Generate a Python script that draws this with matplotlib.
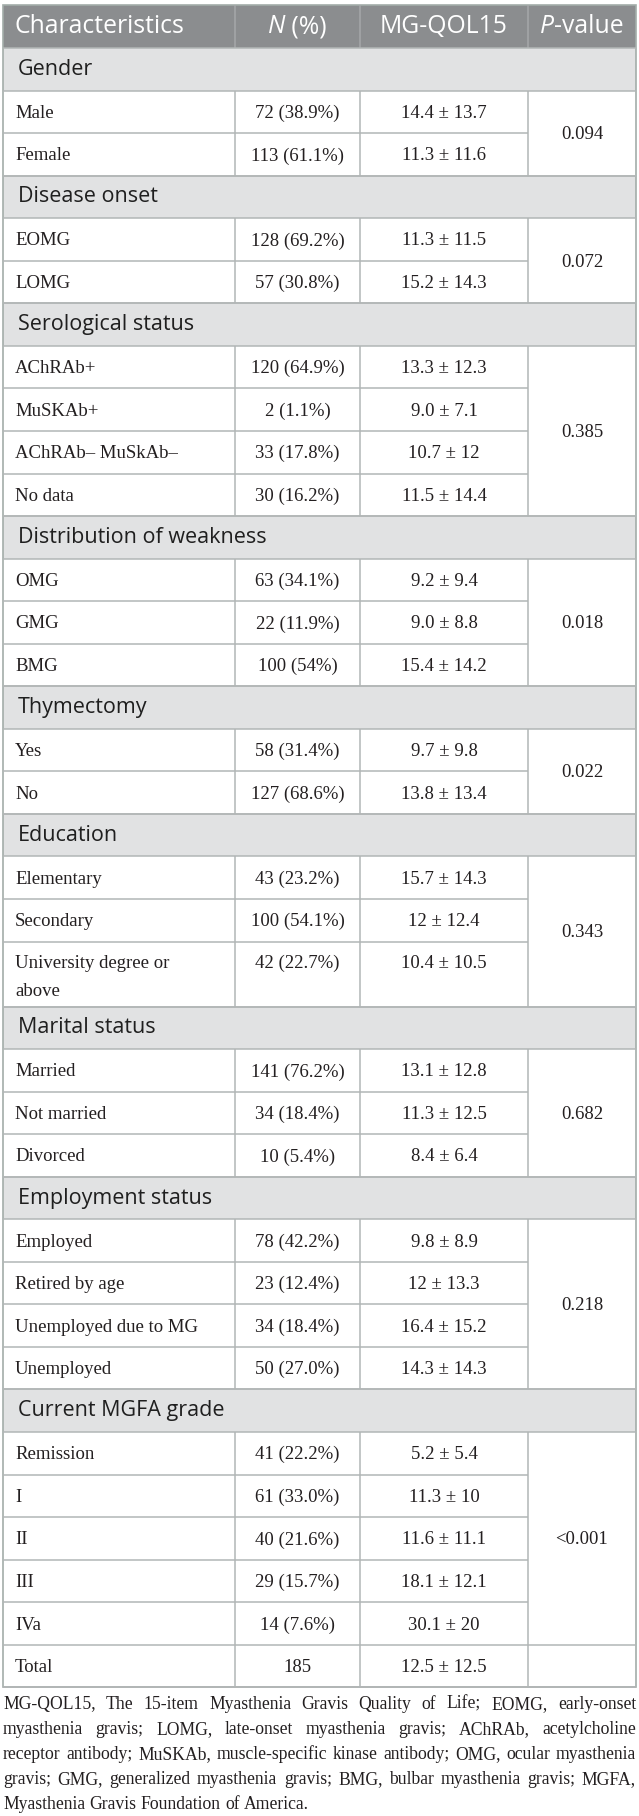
import matplotlib.pyplot as plt
from matplotlib.patches import Rectangle

header = ["Characteristics", "N (%)", "MG-QOL15", "P-value"]

sections = ["Gender", "Disease onset", "Serological status",
            "Distribution of weakness", "Thymectomy", "Education",
            "Marital status", "Employment status", "Current MGFA grade"]

labels = [
    ["Male", "Female"],
    ["EOMG", "LOMG"],
    ["AChRAb+", "MuSKAb+", "AChRAb\u2013 MuSkAb\u2013", "No data"],
    ["OMG", "GMG", "BMG"],
    ["Yes", "No"],
    ["Elementary", "Secondary", "University degree or\nabove"],
    ["Married", "Not married", "Divorced"],
    ["Employed", "Retired by age", "Unemployed due to MG", "Unemployed"],
    ["Remission", "I", "II", "III", "IVa"],
]

n_pct = [
    ["72 (38.9%)", "113 (61.1%)"],
    ["128 (69.2%)", "57 (30.8%)"],
    ["120 (64.9%)", "2 (1.1%)", "33 (17.8%)", "30 (16.2%)"],
    ["63 (34.1%)", "22 (11.9%)", "100 (54%)"],
    ["58 (31.4%)", "127 (68.6%)"],
    ["43 (23.2%)", "100 (54.1%)", "42 (22.7%)"],
    ["141 (76.2%)", "34 (18.4%)", "10 (5.4%)"],
    ["78 (42.2%)", "23 (12.4%)", "34 (18.4%)", "50 (27.0%)"],
    ["41 (22.2%)", "61 (33.0%)", "40 (21.6%)", "29 (15.7%)", "14 (7.6%)"],
]

qol = [
    ["14.4 \u00b1 13.7", "11.3 \u00b1 11.6"],
    ["11.3 \u00b1 11.5", "15.2 \u00b1 14.3"],
    ["13.3 \u00b1 12.3", "9.0 \u00b1 7.1", "10.7 \u00b1 12", "11.5 \u00b1 14.4"],
    ["9.2 \u00b1 9.4", "9.0 \u00b1 8.8", "15.4 \u00b1 14.2"],
    ["9.7 \u00b1 9.8", "13.8 \u00b1 13.4"],
    ["15.7 \u00b1 14.3", "12 \u00b1 12.4", "10.4 \u00b1 10.5"],
    ["13.1 \u00b1 12.8", "11.3 \u00b1 12.5", "8.4 \u00b1 6.4"],
    ["9.8 \u00b1 8.9", "12 \u00b1 13.3", "16.4 \u00b1 15.2", "14.3 \u00b1 14.3"],
    ["5.2 \u00b1 5.4", "11.3 \u00b1 10", "11.6 \u00b1 11.1", "18.1 \u00b1 12.1", "30.1 \u00b1 20"],
]

p_values = ["0.094", "0.072", "0.385", "0.018", "0.022", "0.343", "0.682", "0.218", "<0.001"]

total_row = ["Total", "185", "12.5 \u00b1 12.5", ""]

footnote = [
    "MG-QOL15, The 15-item Myasthenia Gravis Quality of Life; EOMG, early-onset",
    "myasthenia gravis; LOMG, late-onset myasthenia gravis; AChRAb, acetylcholine",
    "receptor antibody; MuSKAb, muscle-specific kinase antibody; OMG, ocular myasthenia",
    "gravis; GMG, generalized myasthenia gravis; BMG, bulbar myasthenia gravis; MGFA,",
    "Myasthenia Gravis Foundation of America.",
]

# layout (pixels)
X = [3, 235, 360, 528, 636]
TOP = 5
HEAD_H = 43
ROW_H = 42.55
TALL_H = 65
PAD = 12
DY = 1.5  # serif text sits a little low in its cell

HEAD_BG = "#8b8d8f"
BAND_BG = "#e1e2e3"
LINE_C = "#b2b6b6"
TXT_C = "#231f20"
SANS = "Open Sans"
SERIF = "Liberation Serif"
LW = 1.1

fig = plt.figure(figsize=(6.39, 18.16), dpi=100)
ax = fig.add_axes([0, 0, 1, 1])
ax.set_xlim(0, 639)
ax.set_ylim(1816, 0)
ax.axis("off")
renderer = fig.canvas.get_renderer()


def text_width(s, **kw):
    t = ax.text(0, 0, s, **kw)
    w = t.get_window_extent(renderer).width
    t.remove()
    return w


def draw_runs(xc, y, runs, **kw):
    # runs of (text, style) centred on xc
    widths = [text_width(s, fontstyle=st, **kw) for s, st in runs]
    x = xc - sum(widths) / 2
    for (s, st), w in zip(runs, widths):
        ax.text(x, y, s, fontstyle=st, ha="left", va="center", **kw)
        x += w


def hline(y, x0, x1):
    ax.plot([x0, x1], [y, y], color=LINE_C, lw=LW, solid_capstyle="butt")


def vline(x, y0, y1, c=LINE_C):
    ax.plot([x, x], [y0, y1], color=c, lw=LW, solid_capstyle="butt")


# header
y = TOP
ax.add_patch(Rectangle((X[0], y), X[4] - X[0], HEAD_H, color=HEAD_BG, lw=0))
hk = dict(fontfamily=SANS, fontsize=17.8, color="white")
yc = y + HEAD_H / 2
ax.text(X[0] + PAD, yc, header[0], ha="left", va="center", **hk)
draw_runs((X[1] + X[2]) / 2, yc, [("N", "italic"), (" (%)", "normal")], **hk)
ax.text((X[2] + X[3]) / 2, yc, header[2], ha="center", va="center", **hk)
draw_runs((X[3] + X[4]) / 2, yc, [("P", "italic"), ("-value", "normal")], **hk)
for xv in X[1:4]:
    vline(xv, y, y + HEAD_H, c="#a6a8aa")
y += HEAD_H

dk = dict(fontfamily=SERIF, fontsize=13.5, color=TXT_C)


def draw_row(y, lab, n, q, h, last, p_own=None):
    lines = lab.split("\n")
    yc = (y + h / 2 if len(lines) == 1 else y + 20) + DY
    for i, ln in enumerate(lines):
        ax.text(X[0] + PAD, yc + 28 * i, ln, ha="left", va="center", **dk)
    ax.text((X[1] + X[2]) / 2, yc, n, ha="center", va="center", **dk)
    ax.text((X[2] + X[3]) / 2, yc, q, ha="center", va="center", **dk)
    if p_own is not None:
        ax.text((X[3] + X[4]) / 2, yc, p_own, ha="center", va="center", **dk)
    hline(y + h, X[0], X[4] if last else X[3])
    for xv in X[1:4]:
        vline(xv, y, y + h)


for sec, labs, ns, qs, p in zip(sections, labels, n_pct, qol, p_values):
    ax.add_patch(Rectangle((X[0], y), X[4] - X[0], ROW_H, color=BAND_BG, lw=0))
    hline(y, X[0], X[4])
    hline(y + ROW_H, X[0], X[4])
    ax.text(X[0] + PAD + 3, y + ROW_H / 2, sec, ha="left", va="center",
            fontfamily=SANS, fontsize=15.5, color="#1f1f1f")
    y += ROW_H
    g0 = y
    for i, (lab, n, q) in enumerate(zip(labs, ns, qs)):
        h = TALL_H if "\n" in lab else ROW_H
        draw_row(y, lab, n, q, h, i == len(labs) - 1)
        y += h
    ax.text((X[3] + X[4]) / 2, (g0 + y) / 2 + DY, p, ha="center", va="center", **dk)

draw_row(y, total_row[0], total_row[1], total_row[2], ROW_H, True, total_row[3])
y += ROW_H
bottom = y

# outer border
ax.add_patch(Rectangle((X[0], TOP), X[4] - X[0], bottom - TOP, fill=False,
                       edgecolor="#a3ada9", lw=1.2))

# footnote, justified except last line
fk = dict(fontfamily=SERIF, fontsize=12.7, color=TXT_C)
fy = bottom + 17
for k, line in enumerate(footnote):
    words = line.split(" ")
    ws = [text_width(w, **fk) for w in words]
    if k < len(footnote) - 1:
        gap = (X[4] - X[0] - sum(ws)) / (len(words) - 1)
    else:
        gap = text_width("a a", **fk) - 2 * text_width("a", **fk)
    x = X[0]
    for w, wd in zip(words, ws):
        ax.text(x, fy, w, ha="left", va="center", **fk)
        x += wd + gap
    fy += 25

fig.savefig("out.png", dpi=100)
